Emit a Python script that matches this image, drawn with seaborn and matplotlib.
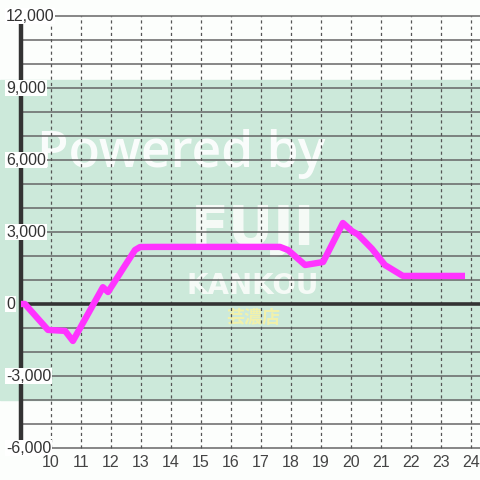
import matplotlib
matplotlib.use("Agg")
import matplotlib.pyplot as plt
import seaborn as sns
import pandas as pd

# data
hours = [9.0, 9.13, 9.9, 10.47, 10.73, 11.73, 11.9, 12.8, 12.97, 13.5, 14.5, 15.5, 16.5, 17.63,
         17.9, 18.47, 19.07, 19.73, 20.03, 20.23, 20.7, 21.13, 21.73, 22.5, 23.0, 23.8]
values = [0, 0, -1080, -1120, -1540, 700, 500, 2250, 2375, 2380, 2380, 2380, 2380, 2380,
          2250, 1625, 1750, 3375, 3040, 2900, 2300, 1625, 1170, 1170, 1170, 1170]
x_ticks = list(range(10, 25))
y_ticks = [-6000, -3000, 0, 3000, 6000, 9000, 12000]
y_grid = list(range(-6000, 12001, 1000))

sns.set_style("white")
plt.rcParams['font.family'] = ['Liberation Sans', 'Noto Sans CJK JP', 'DejaVu Sans']

fig = plt.figure(figsize=(4.8, 4.8), dpi=100)
fig.patch.set_facecolor('#fcfefc')
ax = fig.add_axes([0, 0, 1, 1])
ax.set_facecolor('#fcfefc')
ax.set_xlim(8.3, 24.3)
ax.set_ylim(-7333, 12667)
ax.axis('off')

ax.axhspan(-4000, 9333, color='#cce9da', zorder=0)

# watermark (below grid)
ax.text(0.078, 0.68, "Powered by", transform=ax.transAxes, fontsize=37, color='white',
        alpha=0.9, family=['Open Sans', 'DejaVu Sans'], fontweight='semibold',
        va='center', ha='left', zorder=0.5)
ax.text(0.527, 0.52, "FUJI", transform=ax.transAxes, fontsize=40, color='#fafcfa', alpha=0.9,
        family='DejaVu Sans', fontweight='bold', va='center', ha='center', zorder=0.5)
ax.text(0.527, 0.405, "KANKOU", transform=ax.transAxes, fontsize=20, color='#fafcfa', alpha=0.9,
        family='DejaVu Sans', fontweight='bold', va='center', ha='center', zorder=0.5)
ax.text(0.528, 0.338, "芸濃店", transform=ax.transAxes, fontsize=13, color='#f5f2a8', alpha=0.95,
        family=['Noto Sans CJK JP'], fontweight='bold', va='center', ha='center', zorder=0.5)

for g in y_grid:
    if g == 0:
        continue
    ax.hlines(g, 9.0, 24.3, color='#666666', lw=1.1, zorder=1)
for t in x_ticks:
    ax.vlines(t, -6000, 12000, color='#555555', lw=0.9, linestyles=(0, (2.5, 2.5)), zorder=1)
ax.hlines(0, 9.0, 24.3, color='#333333', lw=2.6, zorder=2)
ax.vlines(9.0, -6000, 11700, color='#333333', lw=3.2, zorder=2)

df = pd.DataFrame({"hour": hours, "value": values})
sns.lineplot(data=df, x="hour", y="value", ax=ax, color='#ff33ff', lw=4.6, zorder=4,
             solid_joinstyle='round', solid_capstyle='butt')

for v in y_ticks:
    ax.text(8.5, v, f"{v:,}", fontsize=11.5, color='#333333', va='center', ha='left', zorder=5,
            bbox=dict(facecolor='white', edgecolor='none', pad=0.6))
for t in x_ticks:
    ax.text(t, -6600, str(t), fontsize=11.5, color='#444444', va='center', ha='center', zorder=5)

fig.savefig("out.png", dpi=100, facecolor=fig.get_facecolor())
